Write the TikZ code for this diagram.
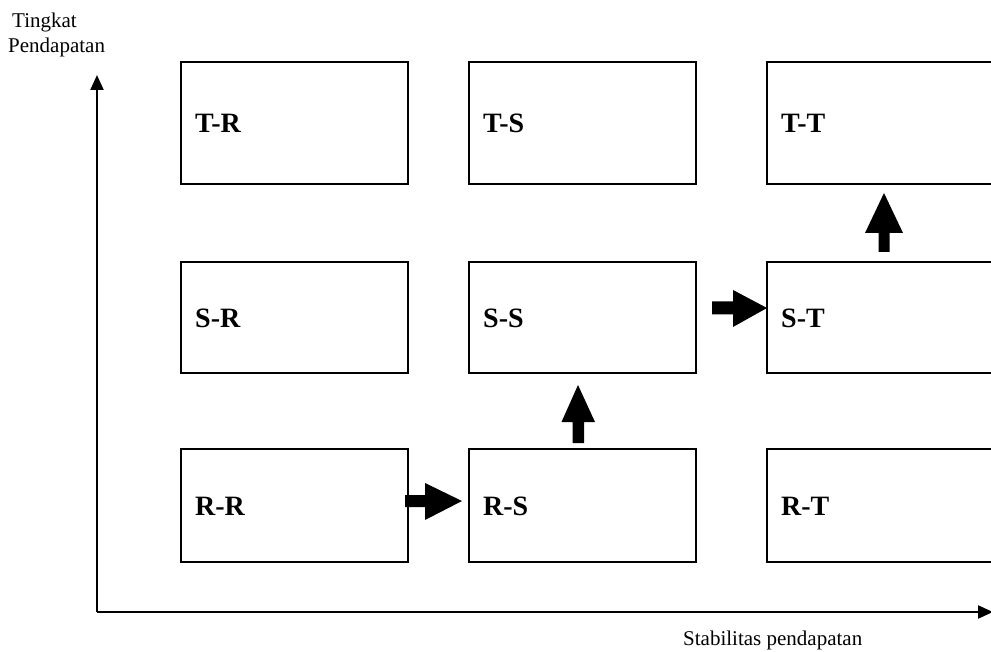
\documentclass[tikz,border=0pt]{standalone}
\usepackage{fontspec}
\setmainfont{Liberation Serif}
\usetikzlibrary{arrows.meta}
\begin{document}
\begin{tikzpicture}[x=1pt,y=-1pt,
  cell/.style={draw, line width=2.4pt, anchor=north west, inner sep=0pt, outer sep=0pt},
  cellname/.style={anchor=base west, inner sep=0pt, font=\fontsize{28}{32}\selectfont\bfseries},
  axisline/.style={line width=2.2pt, -{Triangle[length=15pt,width=13pt]}},
  caption/.style={inner sep=0pt, font=\fontsize{21}{25}\selectfont},
  blockarrow/.style={fill=black}]
\useasboundingbox (0,0) rectangle (991,652);
\clip (0,0) rectangle (991,652);

% axis captions
\node[caption, anchor=base west] (ylab1) at (12,28) {Tingkat};
\node[caption, anchor=base west] (ylab2) at (8,53) {Pendapatan};
\node[caption, anchor=base west] (xlab) at (683,645) {Stabilitas pendapatan};

% axes
\coordinate (origin) at (97,612);
\coordinate (ytip) at (97,75);
\coordinate (xtip) at (993,612);
\draw[axisline] (origin) -- (ytip);
\draw[axisline] (origin) -- (xtip);

% grid of cells: rows T (top), S (middle), R (bottom)
\node[cell, minimum width=227pt, minimum height=122pt] (TR) at (181,62) {};
\node[cell, minimum width=227pt, minimum height=122pt] (TS) at (469,62) {};
\node[cell, minimum width=260pt, minimum height=122pt] (TT) at (767,62) {};
\node[cell, minimum width=227pt, minimum height=111pt] (SR) at (181,262) {};
\node[cell, minimum width=227pt, minimum height=111pt] (SS) at (469,262) {};
\node[cell, minimum width=260pt, minimum height=111pt] (ST) at (767,262) {};
\node[cell, minimum width=227pt, minimum height=113pt] (RR) at (181,449) {};
\node[cell, minimum width=227pt, minimum height=113pt] (RS) at (469,449) {};
\node[cell, minimum width=260pt, minimum height=113pt] (RT) at (767,449) {};

% cell names
\foreach \c/\t in {TR/T-R, TS/T-S, TT/T-T, SR/S-R, SS/S-S, ST/S-T, RR/R-R, RS/R-S, RT/R-T}
  \node[cellname] (\c-name) at ([xshift=14pt, yshift=-10pt]\c.west |- \c.center) {\t};

% block arrows along the path R-R -> R-S -> S-S -> S-T -> T-T
\coordinate (a1) at (RR.east |- 0,501);
\fill[blockarrow] ([xshift=-3pt]a1) ++(0,-6) -- ++(20,0) -- ++(0,-12) -- ++(37,18) -- ++(-37,19) -- ++(0,-13) -- ++(-20,0) -- cycle;

\coordinate (a2) at (578,449);
\fill[blockarrow] ([yshift=6pt]a2) ++(-5.5,0) -- ++(0,-21) -- ++(-11,0) -- ++(16.5,-37) -- ++(17,37) -- ++(-11,0) -- ++(0,21) -- cycle;

\coordinate (a3) at (SS.east |- 0,308);
\fill[blockarrow] ([xshift=16pt]a3) ++(0,-6.5) -- ++(21,0) -- ++(0,-11.5) -- ++(34,18) -- ++(-34,19) -- ++(0,-12.5) -- ++(-21,0) -- cycle;

\coordinate (a4) at (884,262);
\fill[blockarrow] ([yshift=10pt]a4) ++(-5.5,0) -- ++(0,-19) -- ++(-13.5,0) -- ++(19,-40) -- ++(19,40) -- ++(-13.5,0) -- ++(0,19) -- cycle;
\end{tikzpicture}
\end{document}
